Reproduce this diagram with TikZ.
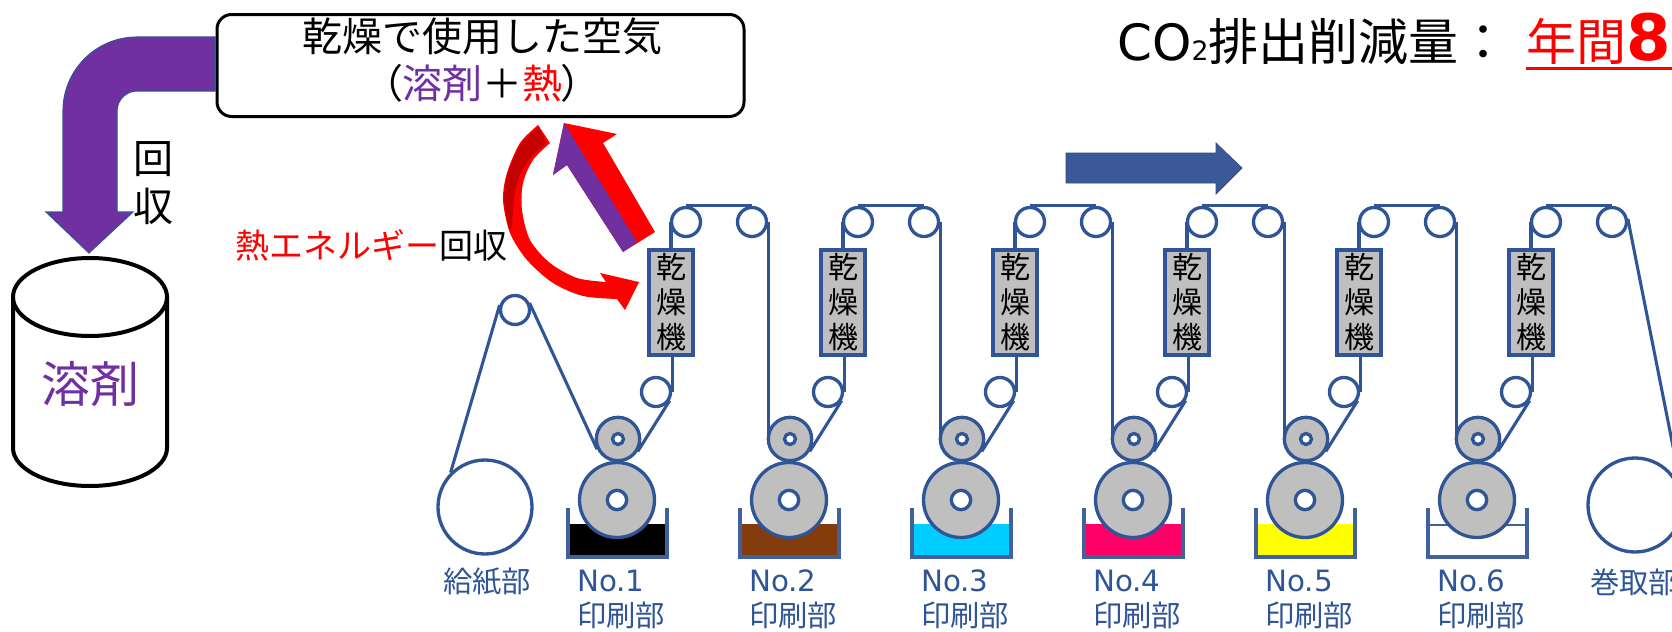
\documentclass[tikz,border=0pt]{standalone}
\usepackage{fontspec}
\setmainfont{Noto Sans CJK JP}
\newfontfamily\lat{DejaVu Sans}
\newfontfamily\jpp[RawFeature=+palt]{Noto Sans CJK JP}
\newcommand\myfs[2]{\fontsize{#1}{#2}\selectfont}
\definecolor{webblue}{RGB}{47,85,151}
\definecolor{traycol}{RGB}{64,96,158}
\definecolor{flowblue}{RGB}{59,89,152}
\definecolor{cylgray}{RGB}{191,191,191}
\definecolor{solvpurple}{RGB}{112,48,160}
\definecolor{darkred}{RGB}{196,0,0}
\definecolor{inkbrown}{RGB}{132,60,12}
\definecolor{inkcyan}{RGB}{0,204,255}
\definecolor{inkmag}{RGB}{255,0,102}
\definecolor{inkyel}{RGB}{255,255,0}
\begin{document}
\begin{tikzpicture}[x=0.75pt,y=-0.75pt,
  web/.style={draw=webblue, line width=2.3pt},
  roll/.style={circle, draw=webblue, line width=2.5pt, fill=white, inner sep=0pt, minimum size=21.75pt},
  bigroll/.style={roll, minimum size=70.5pt},
  smallcyl/.style={circle, draw=webblue, line width=2.5pt, fill=cylgray, inner sep=0pt, minimum size=32.5pt},
  bigcyl/.style={smallcyl, minimum size=56.25pt},
  hole/.style={circle, draw=webblue, line width=2.5pt, fill=white, inner sep=0pt, minimum size=#1},
  dryer/.style={rectangle, draw=webblue, line width=3pt, fill=cylgray, inner sep=0pt, minimum width=32.5pt, minimum height=78.75pt, align=center, font=\myfs{22.5}{26.25}},
  lbl/.style={text=webblue, inner sep=0pt, font=\myfs{22}{26.25}, align=left},
]
\useasboundingbox (0,0) rectangle (1672,632);
\clip (0,0) rectangle (1672,632);

% solvent tank
\draw[line width=3pt, fill=white] (13,297) -- (13,448) .. controls (13,469) and (47.5,486) .. (90,486) .. controls (132.5,486) and (167,469) .. (167,448) -- (167,297);
\draw[line width=3pt, fill=white] (90,297) ellipse [x radius=77, y radius=39];
\node[text=solvpurple, font=\myfs{36.75}{40}, inner sep=0pt] (tanklbl) at (90,384) {溶剤};

% purple elbow arrow
\draw[fill=solvpurple, draw=webblue, line width=0.8pt] (215,37) -- (137,37) .. controls (96.1,37) and (63,70.1) .. (63,111) -- (63,212) -- (46,212) -- (89,253) -- (133,212) -- (117,212) -- (117,111) .. controls (117,100) and (126,91) .. (137,91) -- (215,91) -- cycle;
\node[font=\myfs{30}{36}, align=center, inner sep=0pt] (kaishu) at (153,183) {回\\収};

% air box
\node[draw=black, line width=2.25pt, rounded corners=11pt, minimum width=395.25pt, minimum height=76.5pt, inner sep=0pt, fill=white] (airbox) at (480.5,65.5) {};
\node[font=\myfs{30}{35.25}, align=center, inner sep=0pt] (airtxt) at (482,60.5) {乾燥で使用した空気\\{\jpp （{\color{solvpurple}溶剤}＋{\color{red}熱}）}};

% heat recovery text
\node[anchor=west, font=\myfs{25.5}{30}, inner sep=0pt] (heat) at (235,245) {{\color{red}熱エネルギー}回収};

% curved red arrow
\fill[red] plot[smooth] coordinates {(538,125) (520,143) (507,173) (503,200) (510,233) (527,260) (553,283) (583,296) (617,299)} -- (625,310) -- (639,282) -- (600,273) -- plot[smooth] coordinates {(606,282) (577,278) (550,263) (530,240) (522,210) (523,183) (533,160) (550,143)} -- cycle;
\fill[darkred] plot[smooth] coordinates {(539,127) (521,144) (508,173) (504,200) (510,231)} -- plot[smooth] coordinates {(512,226) (514,200) (519,177) (531,157) (546,143)} -- cycle;

% straight two-tone arrow
\fill[red] (564,123) -- (617,134) -- (603,143) -- (655,232) -- (623,252) -- (567,165) -- (553,175) -- cycle;
\fill[solvpurple] (564,123) -- (553,175) -- (567,165) -- (623,252) -- (637,242) -- cycle;

% flow direction arrow
\draw[fill=flowblue, draw=flowblue!85!black, line width=0.6pt] (1066,153) -- (1216,153) -- (1216,143) -- (1242,168) -- (1216,194) -- (1216,183) -- (1066,183) -- cycle;

% ink trays
\foreach \i/\ink in {0/black,1/inkbrown,2/inkcyan,3/inkmag,4/inkyel}{
  \fill[\ink] ({570+172*\i},524) rectangle ({665+172*\i},555);
}
\draw[traycol, line width=1.2pt] (1430,525) -- (1525,525);
\foreach \i in {0,...,5}{
  \draw[traycol, line width=2.3pt] ({568+172*\i},508) -- ({568+172*\i},557) -- ({667+172*\i},557) -- ({667+172*\i},508);
}

% printing units
\foreach \i in {0,...,5}{
  \pgfmathsetmacro{\dx}{172*\i}
  \node[bigcyl] (B\i) at ({617+\dx},500) {};
  \node[hole=14.5pt] (Bh\i) at (B\i.center) {};
  \node[smallcyl] (S\i) at ({618+\dx},439) {};
  \node[hole=8.25pt] (Sh\i) at (S\i.center) {};
  \node[roll] (L\i) at ({656+\dx},392) {};
  \node[dryer] (D\i) at ({671+\dx},302.5) {乾\\燥\\機};
  \node[roll] (Ua\i) at ({686+\dx},222) {};
  \node[roll] (Ub\i) at ({752+\dx},222) {};
}

% feeder and rewinder
\node[roll] (I) at (515,310) {};
\node[bigroll] (F) at (485,507) {};
\node[bigroll] (R) at (1635,505) {};

% web path
\draw[web] (F.135) -- (I.162);
\draw[web] (I.26) -- (S0.206);
\foreach \i in {0,...,5}{
  \draw[web] (S\i.328) -- (L\i.328);
  \draw[web] (L\i.east) -- (L\i.east |- D\i.south);
  \draw[web] (D\i.north) -- (D\i.north |- Ua\i.west);
  \draw[web] (Ua\i.north) -- (Ub\i.north);
}
\foreach \i/\j in {0/1,1/2,2/3,3/4,4/5}{
  \draw[web] (Ub\i.east) -- (Ub\i.east |- S\j.west);
}
\draw[web] (Ub5.11) -- (R.11);

% labels
\node[lbl] (feedlbl) at (487,582) {給紙部};
\foreach \i in {0,...,5}{
  \pgfmathtruncatemacro{\k}{\i+1}
  \node[lbl, anchor=west] (P\i) at ({577+172*\i},599) {{\lat No.\k}\\印刷部};
}
\node[lbl, anchor=west] (windlbl) at (1590,582) {巻取部};

% title
\node[anchor=base west, inner sep=0pt, font=\myfs{37.5}{40}] (co2) at (1117,60) {{\lat CO{\myfs{20}{20}2}}排出削減量：};
\node[anchor=base west, inner sep=0pt, font=\myfs{37.5}{40}, text=red] (amount) at (1526,60) {年間{\lat\bfseries\myfs{48}{50}8}};
\draw[red, line width=2.25pt] ([yshift=-6.5pt]amount.base west) -- ++(150,0);
\end{tikzpicture}
\end{document}
